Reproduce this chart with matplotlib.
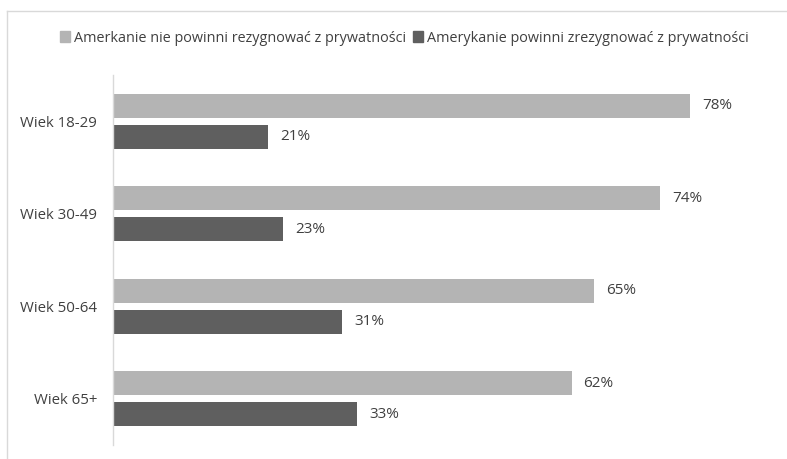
import matplotlib
matplotlib.use("Agg")
import matplotlib.pyplot as plt
from matplotlib.lines import Line2D
from matplotlib.patches import Patch
import numpy as np

plt.rcParams['font.family'] = ['Open Sans', 'DejaVu Sans']

categories = ["Wiek 18-29", "Wiek 30-49", "Wiek 50-64", "Wiek 65+"]
series_names = ["Amerkanie nie powinni rezygnować z prywatności",
                "Amerykanie powinni zrezygnować z prywatności"]
nie_rezygnowac = [78, 74, 65, 62]
rezygnowac = [21, 23, 31, 33]

light = "#b4b4b4"
dark = "#5f5f5f"
txt = "#404040"

fig = plt.figure(figsize=(7.87, 4.59), dpi=100)
W, H = 787, 459
ax = fig.add_axes([113 / W, 1 - 445 / H, (764 - 113) / W, (445 - 75) / H])

y = np.arange(len(categories))
h = 0.26
off = 0.168
b1 = ax.barh(y - off, nie_rezygnowac, height=h, color=light)
b2 = ax.barh(y + off, rezygnowac, height=h, color=dark)

for bars, vals in ((b1, nie_rezygnowac), (b2, rezygnowac)):
    for bar, v in zip(bars, vals):
        ax.text(v + 1.6, bar.get_y() + bar.get_height() / 2, f"{v}%",
                va="center", ha="left", fontsize=11, color=txt)

ax.set_ylim(len(categories) - 0.5, -0.5)
ax.set_xlim(0, 88)
ax.set_yticks(y)
ax.set_yticklabels(categories, fontsize=10.8, color=txt)
ax.tick_params(axis="y", length=0, pad=11.5)
ax.set_xticks([])
for s in ("top", "right", "bottom"):
    ax.spines[s].set_visible(False)
ax.spines["left"].set_color("#d9d9d9")
ax.spines["left"].set_linewidth(1)

handles = [Patch(color=light), Patch(color=dark)]
fig.legend(handles, series_names, loc="center", bbox_to_anchor=(0.514, 1 - 38 / H),
           ncol=2, frameon=False, fontsize=10.4, labelcolor=txt,
           handlelength=0.7, handleheight=0.7, handletextpad=0.25, columnspacing=0.5)

# chart frame (top and left edges)
fig.add_artist(Line2D([7 / W, 1], [1 - 11 / H, 1 - 11 / H], transform=fig.transFigure,
                      color="#d9d9d9", lw=1))
fig.add_artist(Line2D([7 / W, 7 / W], [1 - 11 / H, 0], transform=fig.transFigure,
                      color="#d9d9d9", lw=1))

fig.savefig("out.png", dpi=100)
